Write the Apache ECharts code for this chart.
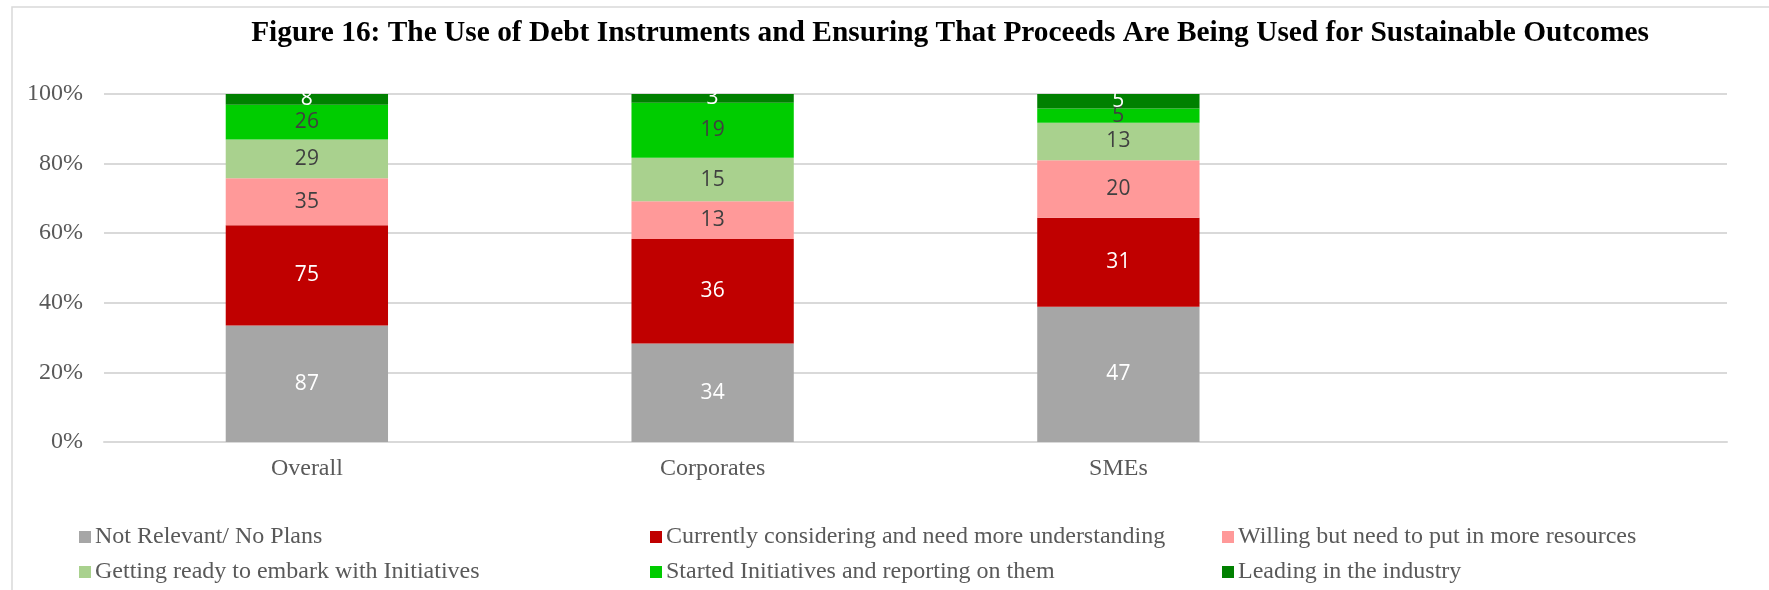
<!DOCTYPE html>
<html>
<head>
<meta charset="utf-8">
<script src="https://cdn.jsdelivr.net/npm/echarts@6/dist/echarts.min.js"></script>
<style>
  html, body { margin: 0; padding: 0; background: #ffffff; }
  #chart { width: 1769px; height: 590px; }
</style>
</head>
<body>
<div id="chart"></div>
<script>
// Respondent groups (the last slot is left empty on the axis)
var categories = ['Overall', 'Corporates', 'SMEs', ''];

// Response categories, bottom of the stack to the top
var seriesNames = [
  'Not Relevant/ No Plans',
  'Currently considering and need more understanding',
  'Willing but need to put in more resources',
  'Getting ready to embark with Initiatives',
  'Started Initiatives and reporting on them',
  'Leading in the industry'
];

// Respondent counts per group
var notRelevant   = [87, 34, 47];
var considering   = [75, 36, 31];
var willing       = [35, 13, 20];
var gettingReady  = [29, 15, 13];
var started       = [26, 19, 5];
var leading       = [8, 3, 5];

var yTicks = [0, 20, 40, 60, 80, 100];

var seriesCounts = [notRelevant, considering, willing, gettingReady, started, leading];
var colors = ['#A6A6A6', '#C00000', '#FF9999', '#A9D18E', '#00CC00', '#008000'];
var labelColors = ['#FFFFFF', '#FFFFFF', '#404040', '#404040', '#404040', '#FFFFFF'];

// Column totals for the 100% stack
var totals = categories.map(function (c, i) {
  var s = 0;
  seriesCounts.forEach(function (arr) { if (arr[i] != null) s += arr[i]; });
  return s;
});

var serif = '"Liberation Serif", "Times New Roman", serif';

var series = seriesCounts.map(function (arr, k) {
  return {
    name: seriesNames[k],
    type: 'bar',
    stack: 'share',
    barWidth: '40%',
    itemStyle: { color: colors[k] },
    label: {
      show: true,
      position: 'inside',
      fontFamily: '"Open Sans", sans-serif',
      fontSize: 21,
      color: labelColors[k],
      formatter: function (p) { return p.data.count; }
    },
    data: arr.map(function (v, i) {
      return { value: v / totals[i] * 100, count: v };
    })
  };
});

// One legend block per entry, laid out as a 3 x 2 grid
var legendCols = [79, 650, 1222];
var legendRows = [525, 560];
var legends = seriesNames.map(function (n, k) {
  return {
    data: [n],
    left: legendCols[k % 3],
    top: legendRows[Math.floor(k / 3)],
    icon: 'rect',
    itemWidth: 12,
    itemHeight: 12,
    itemGap: 0,
    padding: 0,
    selectedMode: false,
    textStyle: { fontFamily: serif, fontSize: 24, color: '#595959', padding: [0, 0, 0, -1] }
  };
});

var chart = echarts.init(document.getElementById('chart'), null, { renderer: 'canvas' });
chart.setOption({
  animation: false,
  backgroundColor: '#ffffff',
  title: {
    text: 'Figure 16: The Use of Debt Instruments and Ensuring That Proceeds Are Being Used for Sustainable Outcomes',
    left: 945,
    textAlign: 'center',
    top: 14,
    textStyle: { fontFamily: serif, fontWeight: 'bold', fontSize: 29.4, color: '#000000' }
  },
  graphic: [{
    type: 'rect',
    shape: { x: 12, y: 7, width: 1800, height: 700 },
    style: { fill: 'none', stroke: '#D9D9D9', lineWidth: 1.5 },
    silent: true
  }],
  legend: legends,
  grid: { left: 104, right: 42, top: 94, bottom: 148 },
  xAxis: {
    type: 'category',
    data: categories,
    axisTick: { show: false },
    axisLine: { lineStyle: { color: '#D9D9D9', width: 2 } },
    axisLabel: { fontFamily: serif, fontSize: 24, color: '#595959', margin: 15 }
  },
  yAxis: {
    type: 'value',
    min: yTicks[0],
    max: yTicks[yTicks.length - 1],
    interval: yTicks[1] - yTicks[0],
    axisLine: { show: false },
    axisTick: { show: false },
    splitLine: { lineStyle: { color: '#D9D9D9', width: 2 } },
    axisLabel: { fontFamily: serif, fontSize: 24, color: '#595959', margin: 21, formatter: '{value}%' }
  },
  series: series
});
</script>
</body>
</html>
